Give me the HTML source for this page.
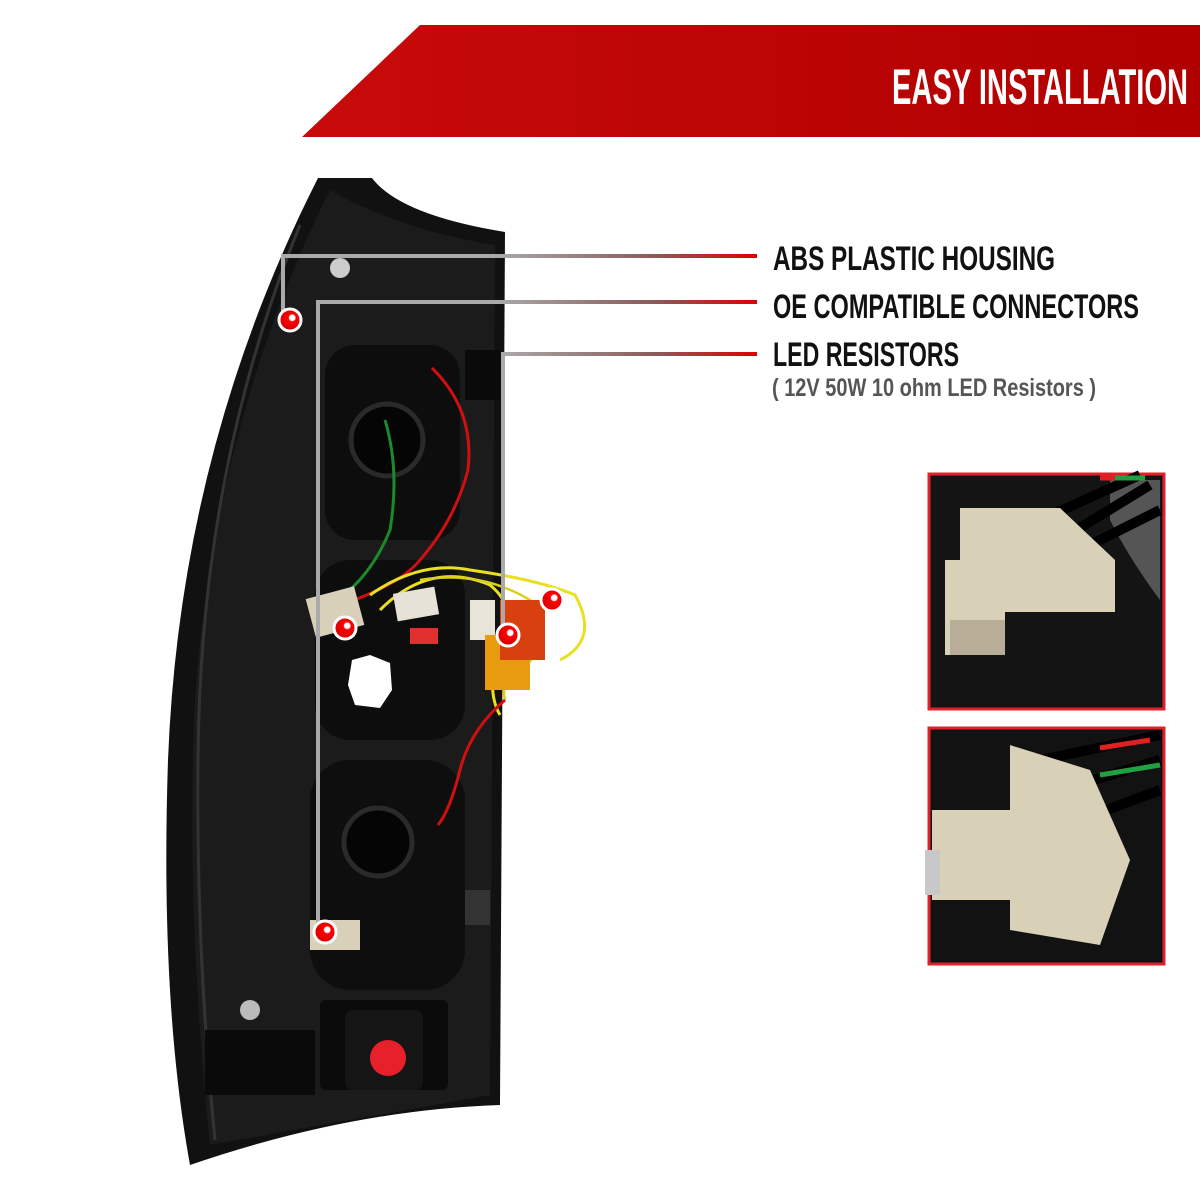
<!DOCTYPE html>
<html><head><meta charset="utf-8"><style>
html,body{margin:0;padding:0;background:#fff}
svg{display:block}
text{font-family:"Liberation Sans Narrow","Liberation Sans",sans-serif}
</style></head><body>
<svg width="1200" height="1200" viewBox="0 0 1200 1200" xmlns="http://www.w3.org/2000/svg">
<defs>
<linearGradient id="lg" x1="0" x2="1" y1="0" y2="0">
<stop offset="0" stop-color="#a8a8a8"/><stop offset="0.6" stop-color="#8a5a5a"/><stop offset="1" stop-color="#e00000"/></linearGradient>
<linearGradient id="ban" x1="0" x2="1"><stop offset="0" stop-color="#c80a0a"/><stop offset="1" stop-color="#b00000"/></linearGradient>
<radialGradient id="dot" cx="0.6" cy="0.4"><stop offset="0.25" stop-color="#fff"/><stop offset="0.35" stop-color="#f00"/><stop offset="1" stop-color="#d00"/></radialGradient>
</defs>
<polygon points="302,137 420,25 1200,25 1200,137" fill="url(#ban)"/>
<text x="1188" y="104" text-anchor="end" font-size="50" font-weight="bold" fill="#fff" textLength="296" lengthAdjust="spacingAndGlyphs">EASY INSTALLATION</text>

<path d="M318,178 L372,178 Q400,215 505,232 L500,1105 Q350,1110 190,1165 Q160,1000 168,760 Q180,450 318,178 Z" fill="#111"/>
<path d="M330,190 Q400,230 495,245 L490,1095 L210,1145 Q185,900 195,700 Q215,420 330,190 Z" fill="#1b1b1b"/>
<path d="M300,225 Q200,470 198,760 Q196,950 215,1140" stroke="#333" stroke-width="3" fill="none"/>
<rect x="325" y="345" width="135" height="195" rx="30" fill="#0d0d0d"/>
<rect x="315" y="560" width="150" height="180" rx="35" fill="#0d0d0d"/>
<rect x="310" y="760" width="155" height="230" rx="40" fill="#0e0e0e"/>
<circle cx="387" cy="440" r="36" fill="#050505" stroke="#2a2a2a" stroke-width="5"/>
<circle cx="378" cy="842" r="34" fill="#050505" stroke="#2a2a2a" stroke-width="5"/>
<path d="M352,660 L370,655 L390,663 L392,690 L380,708 L355,705 L348,685 Z" fill="#fff"/>
<rect x="320" y="1000" width="128" height="90" rx="6" fill="#0b0b0b"/>
<rect x="345" y="1010" width="78" height="80" rx="8" fill="#151515"/>
<circle cx="388" cy="1058" r="18" fill="#e8202a"/>
<rect x="205" y="1030" width="110" height="65" fill="#0a0a0a"/>
<circle cx="250" cy="1010" r="10" fill="#bbb"/>
<circle cx="340" cy="268" r="10" fill="#ccc"/>
<rect x="465" y="350" width="35" height="50" fill="#0a0a0a"/>
<rect x="465" y="890" width="25" height="35" fill="#333"/>
<path d="M432,368 Q475,410 468,470 Q455,520 420,560 Q400,585 340,605" stroke="#d01010" stroke-width="3" fill="none"/>
<path d="M385,420 Q400,470 390,530 Q370,580 330,605" stroke="#1a8a2a" stroke-width="3" fill="none"/>
<path d="M370,595 Q420,560 470,570 Q540,580 575,595 Q600,640 560,660" stroke="#e8e020" stroke-width="3" fill="none"/>
<path d="M380,610 Q430,560 490,585 Q520,610 500,640 Q485,690 500,715" stroke="#e8e020" stroke-width="3" fill="none"/>
<path d="M420,580 Q480,570 530,600 Q560,640 520,670 Q500,680 505,700" stroke="#d8d020" stroke-width="2.5" fill="none"/>
<path d="M505,700 Q470,730 460,770 Q450,810 438,825" stroke="#d01010" stroke-width="3" fill="none"/>
<rect x="310" y="592" width="50" height="40" fill="#d8d0b8" transform="rotate(-15 335 612)"/>
<rect x="395" y="590" width="42" height="28" fill="#e6e2d8" transform="rotate(-10 416 604)"/>
<rect x="470" y="600" width="25" height="40" fill="#e8e4d8"/>
<rect x="485" y="635" width="45" height="55" fill="#e89a10"/>
<rect x="500" y="600" width="45" height="60" fill="#d84010"/>
<rect x="310" y="920" width="50" height="30" fill="#d8d0b8"/>
<rect x="410" y="628" width="28" height="16" fill="#e03030"/>
<path d="M283,318 L283,256 L757,256" stroke="#aaa" stroke-width="4" fill="none"/>
<path d="M318,930 L318,302 L757,302" stroke="#aaa" stroke-width="4" fill="none"/>
<path d="M503,632 L503,354 L757,354" stroke="#aaa" stroke-width="4" fill="none"/>
<rect x="500" y="254" width="257" height="4" fill="url(#lg)"/>
<rect x="500" y="300" width="257" height="4" fill="url(#lg)"/>
<rect x="505" y="352" width="252" height="4" fill="url(#lg)"/>
<g stroke="#fff" stroke-width="3"><circle cx="290" cy="320" r="11" fill="url(#dot)"/><circle cx="345" cy="628" r="11" fill="url(#dot)"/><circle cx="552" cy="600" r="11" fill="url(#dot)"/><circle cx="508" cy="635" r="11" fill="url(#dot)"/><circle cx="325" cy="932" r="11" fill="url(#dot)"/></g>
<text x="773" y="270" font-size="34" font-weight="bold" fill="#111" textLength="282" lengthAdjust="spacingAndGlyphs">ABS PLASTIC HOUSING</text>
<text x="773" y="318" font-size="34" font-weight="bold" fill="#111" textLength="366" lengthAdjust="spacingAndGlyphs">OE COMPATIBLE CONNECTORS</text>
<text x="773" y="366" font-size="34" font-weight="bold" fill="#111" textLength="186" lengthAdjust="spacingAndGlyphs">LED RESISTORS</text>
<text x="772" y="396" font-size="25" font-weight="bold" fill="#555" textLength="324" lengthAdjust="spacingAndGlyphs">( 12V 50W 10 ohm LED Resistors )</text>
<rect x="929" y="474" width="235" height="235" fill="#141414" stroke="#e0202a" stroke-width="3"/>
<path d="M1110,480 L1160,480 L1160,600 Q1130,560 1110,520 Z" fill="#555"/>
<path d="M1040,520 L1140,475 M1060,540 L1150,485 M1070,555 L1160,510" stroke="#000" stroke-width="10"/>
<path d="M1100,478 L1130,478" stroke="#e02020" stroke-width="5"/>
<path d="M1115,478 L1145,478" stroke="#20a040" stroke-width="5"/>
<polygon points="960,508 1060,508 1115,560 1115,612 960,612" fill="#d9d0b8"/>
<rect x="945" y="560" width="60" height="95" fill="#d9d0b8"/>
<rect x="950" y="620" width="55" height="35" fill="#b8ae98"/>
<rect x="929" y="728" width="235" height="236" fill="#121212" stroke="#e0202a" stroke-width="3"/>
<path d="M1040,760 L1160,735 M1060,790 L1160,760 M1080,820 L1160,790" stroke="#000" stroke-width="10"/>
<path d="M1100,748 L1150,740" stroke="#e02020" stroke-width="5"/>
<path d="M1100,775 L1160,765" stroke="#20a040" stroke-width="5"/>
<polygon points="1010,745 1090,770 1130,860 1100,945 1010,930" fill="#d9d0b8"/>
<rect x="932" y="810" width="90" height="90" fill="#d9d0b8"/>
<rect x="925" y="850" width="15" height="45" fill="#c8c8c8"/>
</svg>
</body></html>
